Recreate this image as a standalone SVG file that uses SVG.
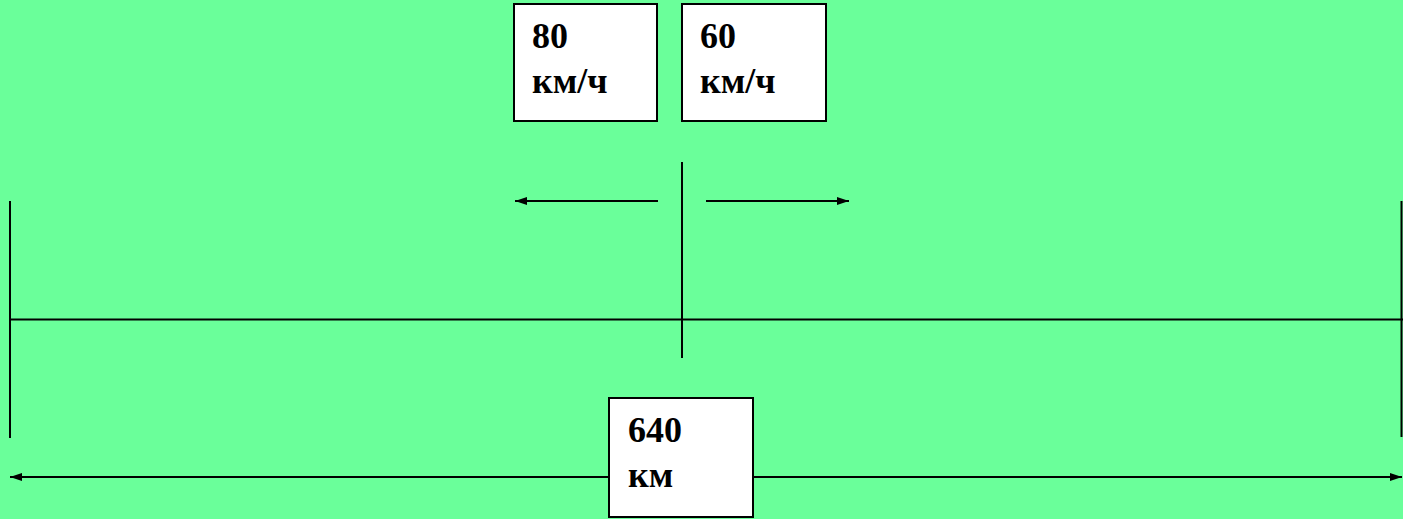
<svg xmlns="http://www.w3.org/2000/svg" width="1403" height="519" viewBox="0 0 1403 519">
<defs>
<style>
.box{fill:#fff;stroke:#000;stroke-width:2}
.ln{stroke:#000;stroke-width:2;fill:none}
.t{font-family:"Liberation Serif","Times New Roman",serif;font-weight:bold;font-size:36px;fill:#000}
</style>
<marker id="ah" viewBox="0 0 12 8" refX="12" refY="4" markerWidth="12" markerHeight="8" markerUnits="userSpaceOnUse" orient="auto-start-reverse">
<path d="M0,0 L12,4 L0,8 z" fill="#000"/>
</marker>
</defs>
<rect width="1403" height="519" fill="#6AFF9A"/>
<g id="connectors">
<line class="ln" x1="10" y1="319.5" x2="1403" y2="319.5"/>
<line class="ln" x1="10" y1="201" x2="10" y2="438"/>
<line class="ln" x1="1401.5" y1="201" x2="1401.5" y2="437"/>
<line class="ln" x1="682" y1="162" x2="682" y2="358"/>
<line class="ln" x1="658" y1="201" x2="515" y2="201" marker-end="url(#ah)"/>
<line class="ln" x1="706" y1="201" x2="849" y2="201" marker-end="url(#ah)"/>
<line class="ln" x1="10" y1="477" x2="1402" y2="477" marker-start="url(#ah)" marker-end="url(#ah)"/>
</g>
<g id="speed80">
<rect class="box" x="514" y="4" width="143" height="117"/>
<text class="t" x="532" y="48">80</text>
<text class="t" x="532" y="93" font-size="30">км/ч</text>
</g>
<g id="speed60">
<rect class="box" x="682" y="4" width="144" height="117"/>
<text class="t" x="700" y="48">60</text>
<text class="t" x="700" y="93" font-size="30">км/ч</text>
</g>
<g id="distance">
<rect class="box" x="609" y="398" width="144" height="119"/>
<text class="t" x="628" y="442">640</text>
<text class="t" x="628" y="487" font-size="30">км</text>
</g>
</svg>
